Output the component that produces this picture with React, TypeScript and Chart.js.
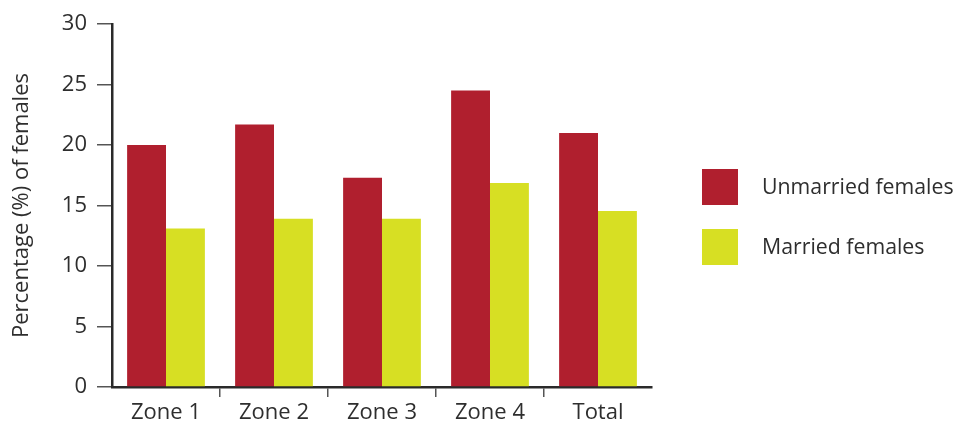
import React, { useEffect, useRef } from "react";
import { Chart, registerables } from "chart.js";

Chart.register(...registerables);

const categories = ["Zone 1", "Zone 2", "Zone 3", "Zone 4", "Total"];
const unmarried = [20.0, 21.7, 17.3, 24.5, 21.0];
const married = [13.1, 13.9, 13.9, 16.85, 14.55];
const seriesLabels = ["Unmarried females", "Married females"];
const seriesColors = ["#B01F2E", "#D7DF23"];
const yTitle = "Percentage (%) of females";

const FONT = "'Open Sans', 'Noto Sans', sans-serif";
const TEXT = "#2e2e2e";

const legendPlugin = {
  id: "sideLegend",
  afterDraw(chart: any) {
    const ctx = chart.ctx;
    ctx.save();
    chart.data.datasets.forEach((ds: any, i: number) => {
      const x = 702;
      const y = 169 + i * 60;
      ctx.fillStyle = ds.backgroundColor;
      ctx.fillRect(x, y, 36, 36);
      ctx.fillStyle = TEXT;
      ctx.font = `21.3px ${FONT}`;
      ctx.textBaseline = "middle";
      ctx.textAlign = "left";
      ctx.fillText(ds.label, x + 60, y + 19);
    });
    ctx.restore();
  },
};

export default function App() {
  const ref = useRef<HTMLCanvasElement>(null);
  useEffect(() => {
    if (!ref.current) return;
    const chart = new Chart(ref.current, {
      type: "bar",
      data: {
        labels: categories,
        datasets: [
          { label: seriesLabels[0], data: unmarried, backgroundColor: seriesColors[0] },
          { label: seriesLabels[1], data: married, backgroundColor: seriesColors[1] },
        ],
      },
      plugins: [legendPlugin],
      options: {
        responsive: false,
        animation: false,
        layout: { padding: { left: 0, right: 305, top: 24, bottom: 0 } },
        datasets: { bar: { categoryPercentage: 0.72, barPercentage: 1 } },
        plugins: { legend: { display: false }, tooltip: { enabled: false } },
        scales: {
          x: {
            afterFit: (s: any) => { s.height = 36; },
            grid: {
              offset: true,
              drawOnChartArea: false,
              drawTicks: true,
              tickLength: 10,
              lineWidth: 1.5,
              color: (c: any) => (c.type !== "tick" || c.index === 0 ? "rgba(0,0,0,0)" : "#555"),
            },
            border: { display: true, color: "#2a2a2a", width: 2.5 },
            ticks: { color: TEXT, font: { family: FONT, size: 22 }, padding: 3 },
          },
          y: {
            min: 0,
            max: 30,
            afterFit: (s: any) => { s.width = 112; },
            grid: { drawOnChartArea: false, drawTicks: true, tickLength: 15, color: "#555", lineWidth: 1.5 },
            border: { display: true, color: "#2a2a2a", width: 2.5 },
            ticks: { stepSize: 5, color: TEXT, font: { family: FONT, size: 22 }, padding: 10 },
            title: { display: true, text: yTitle, color: TEXT, font: { family: FONT, size: 22 }, padding: { top: 9, bottom: 0 } },
          },
        },
      },
    });
    return () => chart.destroy();
  }, []);
  return (
    <div style={{ position: "absolute", left: 0, top: 0, width: 957, height: 423, background: "#fff" }}>
      <canvas ref={ref} width={957} height={423} />
    </div>
  );
}
